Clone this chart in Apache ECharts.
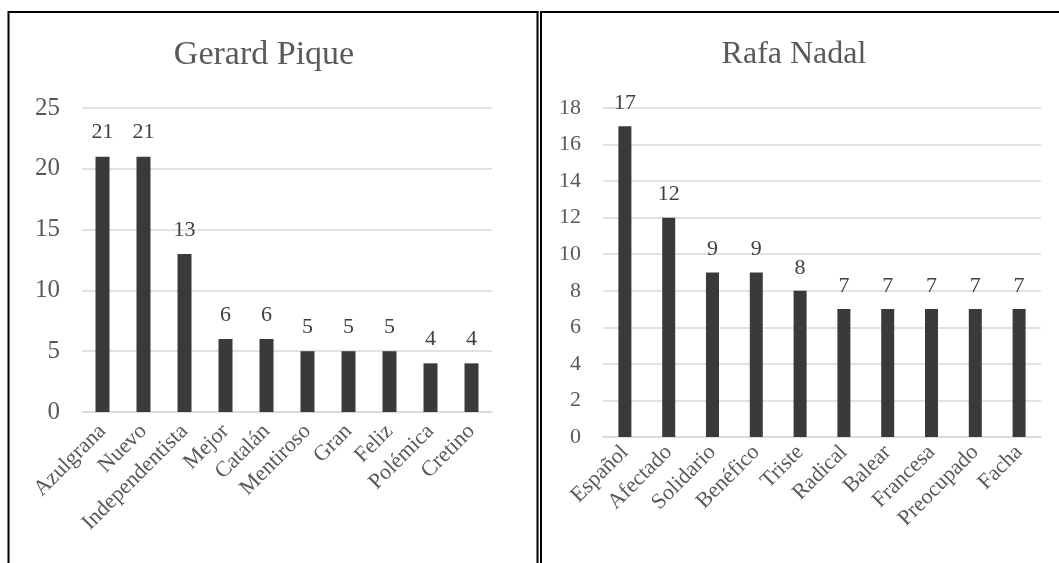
<!DOCTYPE html>
<html>
<head>
<meta charset="utf-8">
<script src="https://cdn.jsdelivr.net/npm/echarts@6/dist/echarts.min.js"></script>
<style>
  html, body { margin: 0; padding: 0; background: #fff; }
  #chart { width: 1059px; height: 563px; }
</style>
</head>
<body>
<div id="chart"></div>
<script>
// Gerard Pique
const piqueWords = ['Azulgrana', 'Nuevo', 'Independentista', 'Mejor', 'Catalán', 'Mentiroso', 'Gran', 'Feliz', 'Polémica', 'Cretino']
const piqueCounts = [21, 21, 13, 6, 6, 5, 5, 5, 4, 4]

// Rafa Nadal
const nadalWords = ['Español', 'Afectado', 'Solidario', 'Benéfico', 'Triste', 'Radical', 'Balear', 'Francesa', 'Preocupado', 'Facha']
const nadalCounts = [17, 12, 9, 9, 8, 7, 7, 7, 7, 7]

const font = '"Liberation Serif", "Times New Roman", serif'
const grey = '#595959'
const barColor = '#3a3a3a'

const chart = echarts.init(document.getElementById('chart'))

function xAxis(idx, data, size, gap) {
  return {
    type: 'category',
    gridIndex: idx,
    data: data,
    axisTick: { show: false },
    axisLine: { lineStyle: { color: '#d9d9d9', width: 1.5 } },
    axisLabel: {
      interval: 0,
      rotate: 45,
      margin: gap,
      color: grey,
      fontFamily: font,
      fontSize: size
    }
  }
}

function yAxis(idx, max, step, size) {
  return {
    type: 'value',
    gridIndex: idx,
    min: 0,
    max: max,
    interval: step,
    axisLine: { show: false },
    axisTick: { show: false },
    axisLabel: { color: grey, fontFamily: font, fontSize: size, margin: 22 },
    splitLine: { lineStyle: { color: '#d9d9d9', width: 1.5 } }
  }
}

function barSeries(idx, data, width, size, dist) {
  return {
    type: 'bar',
    xAxisIndex: idx,
    yAxisIndex: idx,
    data: data,
    barWidth: width,
    itemStyle: { color: barColor },
    label: {
      show: true,
      position: 'top',
      distance: dist,
      color: '#404040',
      fontFamily: font,
      fontSize: size
    }
  }
}

const option = {
  animation: false,
  backgroundColor: '#fff',
  title: [
    {
      text: 'Gerard Pique',
      left: 259,
      top: 33,
      textAlign: 'center',
      textStyle: { color: grey, fontFamily: font, fontSize: 34, fontWeight: 'normal' }
    },
    {
      text: 'Rafa Nadal',
      left: 789,
      top: 34,
      textAlign: 'center',
      textStyle: { color: grey, fontFamily: font, fontSize: 32, fontWeight: 'normal' }
    }
  ],
  grid: [
    { left: 82, right: 567, top: 108, bottom: 151 },
    { left: 603, right: 18, top: 108, bottom: 126 }
  ],
  xAxis: [xAxis(0, piqueWords, 22, 16), xAxis(1, nadalWords, 22, 12)],
  yAxis: [yAxis(0, 25, 5, 25), yAxis(1, 18, 2, 22)],
  series: [
    barSeries(0, piqueCounts, 14, 22, 13),
    barSeries(1, nadalCounts, 13, 22, 12)
  ],
  // panel frames
  graphic: [
    { type: 'line', shape: { x1: 8.5, y1: 11, x2: 8.5, y2: 563 }, style: { stroke: '#000', lineWidth: 2 } },
    { type: 'line', shape: { x1: 8, y1: 12, x2: 538.5, y2: 12 }, style: { stroke: '#000', lineWidth: 2 } },
    { type: 'line', shape: { x1: 537.5, y1: 11, x2: 537.5, y2: 563 }, style: { stroke: '#000', lineWidth: 2 } },
    { type: 'line', shape: { x1: 541, y1: 11, x2: 541, y2: 563 }, style: { stroke: '#000', lineWidth: 2 } },
    { type: 'line', shape: { x1: 540, y1: 12, x2: 1059, y2: 12 }, style: { stroke: '#000', lineWidth: 2 } }
  ]
}

chart.setOption(option)
window.addEventListener('resize', () => chart.resize())
</script>
</body>
</html>
